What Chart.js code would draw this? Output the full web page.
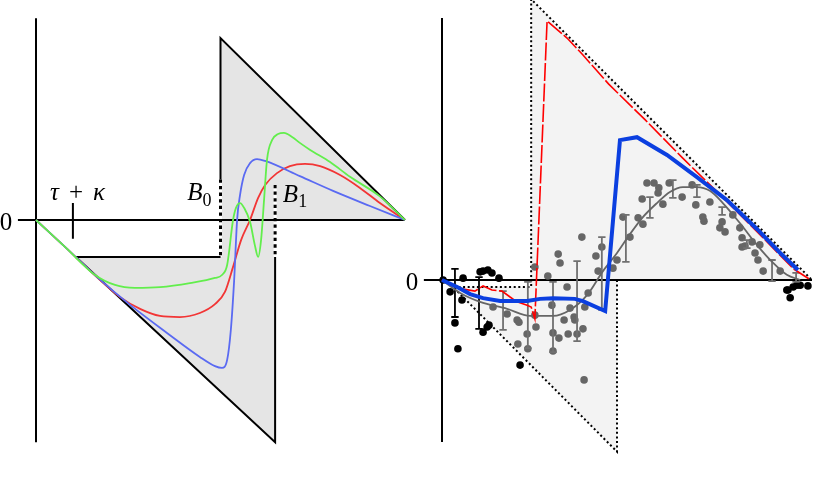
<!DOCTYPE html>
<html>
<head>
<meta charset="utf-8">
<script src="https://cdn.jsdelivr.net/npm/chart.js@4.4.1/dist/chart.umd.min.js"></script>
<style>
  html, body { margin: 0; padding: 0; background: #fff; }
  #wrap { position: relative; width: 830px; height: 498px; }
  #wrap canvas { position: absolute; left: 0; top: 0; }
</style>
</head>
<body>
<div id="wrap">
  <canvas id="leftChart" width="830" height="498"></canvas>
  <canvas id="rightChart" width="830" height="498"></canvas>
</div>
<script>
// ---- left panel: envelope and three response curves ----
const leftAxisX = [[-0.49, 0], [10, 0]];
const leftAxisY = [[0, 5.47], [0, -6.02]];
const leftTick = [[1, 0.46], [1, -0.51]];
const leftShape = [[1.08, -1], [5, -1], [5, 4.93], [10, 0], [6.48, 0], [6.48, -6.02], [1.08, -1]];
const leftEdges = [
  [[1.08, -1], [5, -1]],
  [[5, 1.1], [5, 4.93], [10, 0]],
  [[6.48, -1], [6.48, -6.02], [1.08, -1]]
];
const leftDotted = [
  [[5, 1.1], [5, -1]],
  [[6.48, 0.95], [6.48, -1]]
];
const greenCurve = [[0, 0], [0.8, -0.74], [1.6, -1.49], [2.14, -1.76], [2.68, -1.84], [3.36, -1.82],
  [4.17, -1.71], [4.85, -1.57], [5.04, -1.49], [5.18, -1.22], [5.34, 0], [5.42, 0.33], [5.53, 0.46],
  [5.64, 0.33], [5.8, -0.05], [5.93, -0.68], [6.02, -1.0], [6.1, -0.54], [6.18, 0.54], [6.26, 1.63],
  [6.4, 2.17], [6.56, 2.33], [6.72, 2.36], [6.94, 2.25], [7.15, 2.09], [7.43, 1.9], [7.97, 1.57],
  [8.51, 1.17], [9.32, 0.64], [10, 0]];
const blueCurve = [[0, 0], [0.8, -0.74], [1.65, -1.54], [2.55, -2.3], [3.55, -3.06], [4.44, -3.71],
  [4.85, -3.96], [5.04, -4.01], [5.18, -3.79], [5.28, -2.98], [5.37, -1.63], [5.45, 0], [5.53, 0.68],
  [5.64, 1.22], [5.8, 1.54], [5.99, 1.65], [6.21, 1.6], [7.15, 1.19], [8.05, 0.79], [9.05, 0.38], [10, 0]];
const redCurve = [[0, 0], [0.8, -0.74], [1.73, -1.62], [2.28, -2.09], [2.82, -2.41], [3.36, -2.6],
  [3.9, -2.63], [4.44, -2.52], [4.85, -2.28], [5.12, -1.95], [5.34, -1.27], [5.56, -0.54], [5.8, 0],
  [6.02, 0.6], [6.21, 0.95], [6.53, 1.27], [6.88, 1.46], [7.29, 1.52], [7.7, 1.46], [8.24, 1.22],
  [8.78, 0.87], [9.32, 0.46], [10, 0]];
const leftLabels = [
  { x: -0.81, y: -0.27, align: 'center', parts: [{ t: '0' }] },
  { x: 0.38, y: 0.55, align: 'left', parts: [{ t: 'τ', it: true }, { t: '\u2009\u2009+\u2009\u2009' }, { t: 'κ', it: true }] },
  { x: 4.1, y: 0.54, align: 'left', parts: [{ t: 'B', it: true }, { t: '0', sub: true }] },
  { x: 6.69, y: 0.49, align: 'left', parts: [{ t: 'B', it: true }, { t: '1', sub: true }] }
];

// ---- right panel: data, fit and model ----
const rightAxisX = [[-0.49, 0], [10, 0]];
const rightAxisY = [[0, 7.08], [0, -4.38]];
const rightShape = [[0.3, -0.19], [2.41, -0.19], [2.41, 7.59], [10, 0], [4.73, 0], [4.73, -4.64], [0.3, -0.19]];
const rightOutline = [[4.73, 0], [4.73, -4.64], [0.3, -0.19], [2.41, -0.19], [2.41, 7.59], [10, 0]];
const blackPoints = [[0.03, 0], [0.22, -0.32], [0.57, 0.05], [0.54, -0.54], [0.35, -1.16], [0.43, -1.86],
  [1.03, 0.22], [1.11, 0.24], [1.24, 0.27], [1.35, 0.19], [1.54, 0.05], [1.11, -1.41], [1.22, -1.27],
  [1.27, -1.22], [2.11, -2.3], [9.32, -0.27], [9.35, -0.27], [9.41, -0.48], [9.49, -0.19], [9.59, -0.14],
  [9.68, -0.14], [9.89, -0.16]];
const grayPoints = [[1.38, -0.73], [1.76, -0.92], [2.03, -1.08], [2.08, -1.14], [2.3, -1.46], [2.05, -1.73],
  [2.32, -1.86], [2.51, -0.95], [2.54, -1.27], [2.51, 0.35], [2.86, 0.11], [2.97, -0.68], [3.0, -1.43],
  [3.0, -1.92], [3.16, -1.57], [3.3, -1.08], [3.41, -1.46], [3.46, -0.76], [3.57, -1.0], [3.59, -1.08],
  [3.65, -1.46], [3.81, -1.32], [3.86, -0.73], [3.84, -2.7], [3.14, 0.7], [3.19, 0.46], [3.38, -0.19],
  [3.78, 1.16], [3.95, -0.35], [4.16, 0.65], [4.22, 0.24], [4.32, 0.89], [4.62, 0.32], [4.73, 0.54],
  [4.89, 1.7], [5.08, 1.16], [5.3, 1.68], [5.43, 1.51], [5.41, 2.19], [5.54, 2.62], [5.73, 2.62],
  [5.86, 2.49], [5.84, 2.35], [5.97, 2.05], [6.14, 2.62], [6.49, 2.24], [6.76, 2.57], [6.86, 2.03],
  [7.05, 1.7], [7.08, 1.59], [7.24, 2.11], [7.57, 1.57], [7.51, 1.41], [7.65, 1.3], [7.86, 1.76],
  [8.05, 1.41], [8.11, 1.14], [8.11, 0.89], [8.19, 0.92], [8.38, 1.03], [8.59, 0.95], [8.46, 0.73],
  [8.54, 0.54], [8.68, 0.24], [9.14, 0.24]];
// [x, low, high]
const blackErrorBars = [[0.35, -1.0, 0.3], [1.0, -1.32, 0.08]];
const grayErrorBars = [[1.65, -1.35, -0.3], [2.32, -1.84, -0.05], [3.0, -1.95, -0.05], [3.65, -1.65, 0.51],
  [4.32, -0.81, 1.16], [4.97, 0.49, 1.76], [5.62, 1.68, 2.24], [6.24, 2.22, 2.7], [6.89, 2.24, 2.57],
  [7.57, 1.76, 1.97], [8.24, 0.86, 1.08], [8.92, -0.03, 0.54], [9.57, -0.05, 0.19]];
const fitCurve = [[0, 0], [0.49, -0.35], [1.03, -0.59], [1.76, -0.78], [2.38, -0.97], [3.0, -0.97],
  [3.46, -0.81], [3.92, -0.41], [4.35, 0.24], [4.73, 0.73], [5.08, 1.24], [5.43, 1.7], [5.81, 2.08],
  [6.16, 2.38], [6.51, 2.51], [6.89, 2.51], [7.24, 2.41], [7.59, 2.08], [8.05, 1.54], [8.51, 0.95],
  [8.95, 0.46], [9.32, 0.14], [9.68, 0]];
const blueModel = [[0, 0], [0.41, -0.19], [0.76, -0.38], [1.11, -0.49], [1.57, -0.57], [2.3, -0.57],
  [2.65, -0.51], [3.0, -0.49], [3.59, -0.51], [3.81, -0.57], [4.41, -0.84], [4.81, 3.78], [5.27, 3.86],
  [6.08, 3.38], [6.89, 2.78], [7.7, 2.16], [8.51, 1.38], [9.14, 0.73], [9.62, 0.27]];
const redModel = [[0, 0], [0.27, -0.14], [0.54, -0.24], [0.89, -0.3], [1.11, -0.16], [1.35, -0.27],
  [1.62, -0.3], [1.84, -0.46], [2.03, -0.59], [2.3, -0.68], [2.41, -0.73], [2.51, -1.05], [2.84, 7.0],
  [3.38, 6.54], [3.81, 6.08], [4.5, 5.3], [5.5, 4.32], [6.5, 3.3], [7.5, 2.32], [8.5, 1.32], [9.5, 0.3],
  [9.92, 0.03]];
const rightLabels = [{ x: -0.81, y: -0.27, align: 'center', parts: [{ t: '0' }] }];

const pts = arr => arr.map(([x, y]) => ({ x, y }));
const joinSegments = list => list.flatMap(s => [...pts(s), { x: s[0][0], y: null }]);
function errorBarPoints(bars, cap) {
  const out = [];
  bars.forEach(([x, lo, hi]) => {
    out.push({ x, y: lo }, { x, y: hi }, { x, y: null },
      { x: x - cap, y: hi }, { x: x + cap, y: hi }, { x, y: null },
      { x: x - cap, y: lo }, { x: x + cap, y: lo }, { x, y: null });
  });
  return out;
}
function line(data, color, width, order, extra) {
  return Object.assign({ data, showLine: true, borderColor: color, borderWidth: width, pointRadius: 0,
    fill: false, tension: 0, spanGaps: false, order, borderCapStyle: 'butt' }, extra || {});
}
function dots(data, color, order) {
  return { data: pts(data), showLine: false, pointRadius: 3.8, pointBorderWidth: 0,
    pointBackgroundColor: color, backgroundColor: color, order };
}

const mathLabels = {
  id: 'mathLabels',
  afterDatasetsDraw(chart, args, opts) {
    const ctx = chart.ctx, sx = chart.scales.x, sy = chart.scales.y;
    (opts.items || []).forEach(lab => {
      const pieces = lab.parts.map(p => {
        const f = (p.it ? 'italic ' : '') + (p.sub ? Math.round(opts.size * 0.7) : opts.size) + 'px ' + opts.family;
        ctx.font = f;
        return { p, f, w: ctx.measureText(p.t).width };
      });
      const total = pieces.reduce((s, q) => s + q.w, 0);
      let px = sx.getPixelForValue(lab.x);
      if (lab.align === 'center') px -= total / 2;
      else if (lab.align === 'right') px -= total;
      const py = sy.getPixelForValue(lab.y);
      ctx.save();
      ctx.fillStyle = '#000';
      ctx.textBaseline = 'alphabetic';
      pieces.forEach(q => {
        ctx.font = q.f;
        ctx.fillText(q.p.t, px, py + (q.p.sub ? opts.size * 0.22 : 0));
        px += q.w;
      });
      ctx.restore();
    });
  }
};

// map data units onto the page: origin pixel and pixels per unit
function frame(originX, originY, unit) {
  return {
    x: { type: 'linear', display: false, min: -originX / unit, max: (830 - originX) / unit },
    y: { type: 'linear', display: false, min: -(498 - originY) / unit, max: originY / unit }
  };
}
function makeChart(id, datasets, scales, labels) {
  return new Chart(document.getElementById(id), {
    type: 'scatter',
    data: { datasets },
    options: {
      responsive: false, animation: false, events: [],
      layout: { padding: 0, autoPadding: false },
      scales,
      plugins: {
        legend: { display: false }, tooltip: { enabled: false },
        mathLabels: { items: labels, size: 25, family: '"Liberation Serif", "DejaVu Serif", serif' }
      }
    },
    plugins: [mathLabels]
  });
}

makeChart('leftChart', [
  line(pts(leftShape), 'rgba(0,0,0,0)', 0, 20, { fill: 'shape', backgroundColor: '#e5e5e5' }),
  line(joinSegments(leftDotted), '#fff', 3, 19),
  line(joinSegments(leftDotted), '#000', 3, 18, { borderDash: [3.3, 3.3] }),
  line(joinSegments(leftEdges), '#000', 2, 17, { borderJoinStyle: 'miter' }),
  line(pts(leftAxisX), '#000', 2, 16),
  line(pts(leftAxisY), '#000', 2, 16),
  line(pts(leftTick), '#000', 2, 16),
  line(pts(redCurve), '#f23535', 1.8, 3, { cubicInterpolationMode: 'monotone' }),
  line(pts(blueCurve), '#5a6af2', 1.8, 2, { cubicInterpolationMode: 'monotone' }),
  line(pts(greenCurve), '#62ee4c', 1.8, 1, { cubicInterpolationMode: 'monotone' })
], frame(36, 220, 36.9), leftLabels);

makeChart('rightChart', [
  line(pts(rightShape), 'rgba(0,0,0,0)', 0, 20, { fill: 'shape', backgroundColor: '#f3f3f3' }),
  line(pts(rightOutline), '#000', 2, 19, { borderDash: [2, 2.6] }),
  line(pts(rightAxisX), '#000', 2, 18),
  line(pts(rightAxisY), '#000', 2, 18),
  dots(grayPoints, '#666', 9),
  dots(blackPoints, '#000', 8),
  line(errorBarPoints(grayErrorBars, 0.1), '#707070', 1.8, 7),
  line(errorBarPoints(blackErrorBars, 0.1), '#000', 1.8, 7),
  line(pts(fitCurve), '#666', 1.8, 6, { cubicInterpolationMode: 'monotone' }),
  line(pts(redModel), '#ff0000', 1.6, 5, { borderDash: [18, 2.5] }),
  line(pts(blueModel), '#0b3fe0', 4, 4, { borderJoinStyle: 'miter' })
], frame(442, 280, 37), rightLabels);
</script>
</body>
</html>
